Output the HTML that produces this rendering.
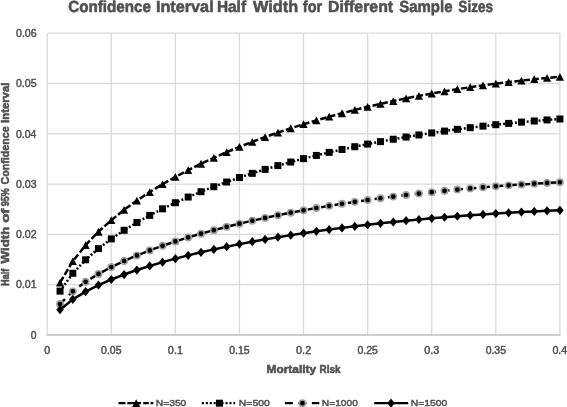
<!DOCTYPE html>
<html><head><meta charset="utf-8"><style>
html,body{margin:0;padding:0;background:#fff;overflow:hidden;}
svg{display:block;will-change:transform;}
text{font-family:"Liberation Sans",sans-serif;fill:#505050;stroke:#505050;paint-order:stroke;}
</style></head><body>
<svg width="567" height="407" viewBox="0 0 567 407">
<rect width="567" height="407" fill="#fff"/>
<line x1="47.20" y1="33.20" x2="47.20" y2="335.00" stroke="#d9d9d9" stroke-width="1.3"/>
<line x1="111.29" y1="33.20" x2="111.29" y2="335.00" stroke="#d9d9d9" stroke-width="1.3"/>
<line x1="175.38" y1="33.20" x2="175.38" y2="335.00" stroke="#d9d9d9" stroke-width="1.3"/>
<line x1="239.46" y1="33.20" x2="239.46" y2="335.00" stroke="#d9d9d9" stroke-width="1.3"/>
<line x1="303.55" y1="33.20" x2="303.55" y2="335.00" stroke="#d9d9d9" stroke-width="1.3"/>
<line x1="367.64" y1="33.20" x2="367.64" y2="335.00" stroke="#d9d9d9" stroke-width="1.3"/>
<line x1="431.73" y1="33.20" x2="431.73" y2="335.00" stroke="#d9d9d9" stroke-width="1.3"/>
<line x1="495.81" y1="33.20" x2="495.81" y2="335.00" stroke="#d9d9d9" stroke-width="1.3"/>
<line x1="559.90" y1="33.20" x2="559.90" y2="335.00" stroke="#d9d9d9" stroke-width="1.3"/>
<line x1="47.20" y1="284.70" x2="559.90" y2="284.70" stroke="#d9d9d9" stroke-width="1.3"/>
<line x1="47.20" y1="234.40" x2="559.90" y2="234.40" stroke="#d9d9d9" stroke-width="1.3"/>
<line x1="47.20" y1="184.10" x2="559.90" y2="184.10" stroke="#d9d9d9" stroke-width="1.3"/>
<line x1="47.20" y1="133.80" x2="559.90" y2="133.80" stroke="#d9d9d9" stroke-width="1.3"/>
<line x1="47.20" y1="83.50" x2="559.90" y2="83.50" stroke="#d9d9d9" stroke-width="1.3"/>
<line x1="47.20" y1="33.20" x2="559.90" y2="33.20" stroke="#d9d9d9" stroke-width="1.3"/>
<line x1="46.60" y1="335.00" x2="560.50" y2="335.00" stroke="#bfbfbf" stroke-width="1.4"/>
<text x="30.84" y="338.70" font-size="10" textLength="5.72" lengthAdjust="spacingAndGlyphs" style="stroke-width:0.45px">0</text>
<text x="16.03" y="288.40" font-size="10" textLength="20.53" lengthAdjust="spacingAndGlyphs" style="stroke-width:0.45px">0.01</text>
<text x="16.03" y="238.10" font-size="10" textLength="20.60" lengthAdjust="spacingAndGlyphs" style="stroke-width:0.45px">0.02</text>
<text x="16.03" y="187.80" font-size="10" textLength="20.53" lengthAdjust="spacingAndGlyphs" style="stroke-width:0.45px">0.03</text>
<text x="16.03" y="137.50" font-size="10" textLength="20.33" lengthAdjust="spacingAndGlyphs" style="stroke-width:0.45px">0.04</text>
<text x="16.03" y="87.20" font-size="10" textLength="20.47" lengthAdjust="spacingAndGlyphs" style="stroke-width:0.45px">0.05</text>
<text x="16.03" y="36.90" font-size="10" textLength="20.53" lengthAdjust="spacingAndGlyphs" style="stroke-width:0.45px">0.06</text>
<text x="44.22" y="353.60" font-size="10" textLength="5.95" lengthAdjust="spacingAndGlyphs" style="stroke-width:0.45px">0</text>
<text x="101.12" y="353.60" font-size="10" textLength="20.36" lengthAdjust="spacingAndGlyphs" style="stroke-width:0.45px">0.05</text>
<text x="167.89" y="353.60" font-size="10" textLength="15.06" lengthAdjust="spacingAndGlyphs" style="stroke-width:0.45px">0.1</text>
<text x="229.30" y="353.60" font-size="10" textLength="20.36" lengthAdjust="spacingAndGlyphs" style="stroke-width:0.45px">0.15</text>
<text x="296.07" y="353.60" font-size="10" textLength="15.13" lengthAdjust="spacingAndGlyphs" style="stroke-width:0.45px">0.2</text>
<text x="357.47" y="353.60" font-size="10" textLength="20.36" lengthAdjust="spacingAndGlyphs" style="stroke-width:0.45px">0.25</text>
<text x="424.24" y="353.60" font-size="10" textLength="15.06" lengthAdjust="spacingAndGlyphs" style="stroke-width:0.45px">0.3</text>
<text x="485.65" y="353.60" font-size="10" textLength="20.36" lengthAdjust="spacingAndGlyphs" style="stroke-width:0.45px">0.35</text>
<text x="552.42" y="353.60" font-size="10" textLength="14.85" lengthAdjust="spacingAndGlyphs" style="stroke-width:0.45px">0.4</text>
<text x="68.21" y="12.40" font-size="16" font-weight="bold" textLength="82.81" lengthAdjust="spacingAndGlyphs" style="stroke-width:0.55px" text-rendering="geometricPrecision">Confidence</text>
<text x="155.96" y="12.40" font-size="16" font-weight="bold" textLength="57.69" lengthAdjust="spacingAndGlyphs" style="stroke-width:0.55px" text-rendering="geometricPrecision">Interval</text>
<text x="216.91" y="12.40" font-size="16" font-weight="bold" textLength="29.14" lengthAdjust="spacingAndGlyphs" style="stroke-width:0.55px" text-rendering="geometricPrecision">Half</text>
<text x="253.08" y="12.40" font-size="16" font-weight="bold" textLength="45.15" lengthAdjust="spacingAndGlyphs" style="stroke-width:0.55px" text-rendering="geometricPrecision">Width</text>
<text x="302.80" y="12.40" font-size="16" font-weight="bold" textLength="19.33" lengthAdjust="spacingAndGlyphs" style="stroke-width:0.55px" text-rendering="geometricPrecision">for</text>
<text x="327.99" y="12.40" font-size="16" font-weight="bold" textLength="65.12" lengthAdjust="spacingAndGlyphs" style="stroke-width:0.55px" text-rendering="geometricPrecision">Different</text>
<text x="399.21" y="12.40" font-size="16" font-weight="bold" textLength="53.30" lengthAdjust="spacingAndGlyphs" style="stroke-width:0.55px" text-rendering="geometricPrecision">Sample</text>
<text x="458.35" y="12.40" font-size="16" font-weight="bold" textLength="34.69" lengthAdjust="spacingAndGlyphs" style="stroke-width:0.55px" text-rendering="geometricPrecision">Sizes</text>
<text x="266.46" y="372.70" font-size="11" font-weight="bold" textLength="49.70" lengthAdjust="spacingAndGlyphs" style="stroke-width:0.55px">Mortality</text>
<text x="319.60" y="372.70" font-size="11" font-weight="bold" textLength="20.83" lengthAdjust="spacingAndGlyphs" style="stroke-width:0.55px">Risk</text>
<g transform="translate(9.0,0) rotate(-90)"><text x="-285.74" y="0.00" font-size="11" font-weight="bold" textLength="16.92" lengthAdjust="spacingAndGlyphs" style="stroke-width:0.55px">Half</text><text x="-263.43" y="0.00" font-size="11" font-weight="bold" textLength="36.66" lengthAdjust="spacingAndGlyphs" style="stroke-width:0.55px">Width</text><text x="-222.89" y="0.00" font-size="11" font-weight="bold" textLength="14.11" lengthAdjust="spacingAndGlyphs" style="stroke-width:0.55px">of</text><text x="-206.36" y="0.00" font-size="11" font-weight="bold" textLength="18.13" lengthAdjust="spacingAndGlyphs" style="stroke-width:0.55px">95%</text><text x="-184.59" y="0.00" font-size="11" font-weight="bold" textLength="58.16" lengthAdjust="spacingAndGlyphs" style="stroke-width:0.55px">Confidence</text><text x="-122.90" y="0.00" font-size="11" font-weight="bold" textLength="40.21" lengthAdjust="spacingAndGlyphs" style="stroke-width:0.55px">Interval</text></g>
<polyline points="60.02,282.57 72.83,261.22 85.65,245.10 98.47,231.73 111.29,220.15 124.10,209.85 136.92,200.54 149.74,192.04 162.56,184.19 175.38,176.91 188.19,170.11 201.01,163.75 213.83,157.78 226.64,152.15 239.46,146.83 252.28,141.81 265.10,137.05 277.91,132.54 290.73,128.27 303.55,124.21 316.37,120.36 329.18,116.70 342.00,113.23 354.82,109.94 367.64,106.81 380.45,103.85 393.27,101.04 406.09,98.39 418.91,95.88 431.72,93.51 444.54,91.28 457.36,89.18 470.18,87.21 482.99,85.37 495.81,83.65 508.63,82.05 521.45,80.57 534.26,79.21 547.08,77.97 559.90,76.84" fill="none" stroke="#000" stroke-width="2.5" stroke-linejoin="round" stroke-dasharray="6.6,2.4"/>
<path d="M60.02,278.67L64.12,286.47L55.92,286.47Z" fill="#000"/><path d="M72.83,257.32L76.93,265.12L68.73,265.12Z" fill="#000"/><path d="M85.65,241.20L89.75,249.00L81.55,249.00Z" fill="#000"/><path d="M98.47,227.83L102.57,235.63L94.37,235.63Z" fill="#000"/><path d="M111.29,216.25L115.39,224.05L107.19,224.05Z" fill="#000"/><path d="M124.10,205.95L128.20,213.75L120.00,213.75Z" fill="#000"/><path d="M136.92,196.64L141.02,204.44L132.82,204.44Z" fill="#000"/><path d="M149.74,188.14L153.84,195.94L145.64,195.94Z" fill="#000"/><path d="M162.56,180.29L166.66,188.09L158.46,188.09Z" fill="#000"/><path d="M175.38,173.01L179.47,180.81L171.28,180.81Z" fill="#000"/><path d="M188.19,166.21L192.29,174.01L184.09,174.01Z" fill="#000"/><path d="M201.01,159.85L205.11,167.65L196.91,167.65Z" fill="#000"/><path d="M213.83,153.88L217.93,161.68L209.73,161.68Z" fill="#000"/><path d="M226.64,148.25L230.74,156.05L222.54,156.05Z" fill="#000"/><path d="M239.46,142.93L243.56,150.73L235.36,150.73Z" fill="#000"/><path d="M252.28,137.91L256.38,145.71L248.18,145.71Z" fill="#000"/><path d="M265.10,133.15L269.20,140.95L261.00,140.95Z" fill="#000"/><path d="M277.91,128.64L282.01,136.44L273.81,136.44Z" fill="#000"/><path d="M290.73,124.37L294.83,132.17L286.63,132.17Z" fill="#000"/><path d="M303.55,120.31L307.65,128.11L299.45,128.11Z" fill="#000"/><path d="M316.37,116.46L320.47,124.26L312.27,124.26Z" fill="#000"/><path d="M329.18,112.80L333.28,120.60L325.08,120.60Z" fill="#000"/><path d="M342.00,109.33L346.10,117.13L337.90,117.13Z" fill="#000"/><path d="M354.82,106.04L358.92,113.84L350.72,113.84Z" fill="#000"/><path d="M367.64,102.91L371.74,110.71L363.54,110.71Z" fill="#000"/><path d="M380.45,99.95L384.56,107.75L376.35,107.75Z" fill="#000"/><path d="M393.27,97.14L397.37,104.94L389.17,104.94Z" fill="#000"/><path d="M406.09,94.49L410.19,102.29L401.99,102.29Z" fill="#000"/><path d="M418.91,91.98L423.01,99.78L414.81,99.78Z" fill="#000"/><path d="M431.72,89.61L435.82,97.41L427.62,97.41Z" fill="#000"/><path d="M444.54,87.38L448.64,95.18L440.44,95.18Z" fill="#000"/><path d="M457.36,85.28L461.46,93.08L453.26,93.08Z" fill="#000"/><path d="M470.18,83.31L474.28,91.11L466.08,91.11Z" fill="#000"/><path d="M482.99,81.47L487.09,89.27L478.89,89.27Z" fill="#000"/><path d="M495.81,79.75L499.91,87.55L491.71,87.55Z" fill="#000"/><path d="M508.63,78.15L512.73,85.95L504.53,85.95Z" fill="#000"/><path d="M521.45,76.67L525.55,84.47L517.35,84.47Z" fill="#000"/><path d="M534.26,75.31L538.36,83.11L530.16,83.11Z" fill="#000"/><path d="M547.08,74.07L551.18,81.87L542.98,81.87Z" fill="#000"/><path d="M559.90,72.94L564.00,80.74L555.80,80.74Z" fill="#000"/>
<polyline points="60.02,291.13 72.83,273.27 85.65,259.79 98.47,248.60 111.29,238.91 124.10,230.29 136.92,222.51 149.74,215.39 162.56,208.82 175.38,202.73 188.19,197.05 201.01,191.72 213.83,186.72 226.64,182.01 239.46,177.57 252.28,173.36 265.10,169.38 277.91,165.61 290.73,162.03 303.55,158.64 316.37,155.42 329.18,152.36 342.00,149.46 354.82,146.70 367.64,144.09 380.45,141.61 393.27,139.26 406.09,137.04 418.91,134.94 431.72,132.95 444.54,131.09 457.36,129.33 470.18,127.68 482.99,126.14 495.81,124.70 508.63,123.37 521.45,122.13 534.26,120.99 547.08,119.95 559.90,119.00" fill="none" stroke="#000" stroke-width="2.5" stroke-linejoin="round" stroke-dasharray="1.9,2.05"/>
<rect x="56.52" y="287.63" width="7" height="7" fill="#000"/><rect x="69.33" y="269.77" width="7" height="7" fill="#000"/><rect x="82.15" y="256.29" width="7" height="7" fill="#000"/><rect x="94.97" y="245.10" width="7" height="7" fill="#000"/><rect x="107.79" y="235.41" width="7" height="7" fill="#000"/><rect x="120.60" y="226.79" width="7" height="7" fill="#000"/><rect x="133.42" y="219.01" width="7" height="7" fill="#000"/><rect x="146.24" y="211.89" width="7" height="7" fill="#000"/><rect x="159.06" y="205.32" width="7" height="7" fill="#000"/><rect x="171.88" y="199.23" width="7" height="7" fill="#000"/><rect x="184.69" y="193.55" width="7" height="7" fill="#000"/><rect x="197.51" y="188.22" width="7" height="7" fill="#000"/><rect x="210.33" y="183.22" width="7" height="7" fill="#000"/><rect x="223.14" y="178.51" width="7" height="7" fill="#000"/><rect x="235.96" y="174.07" width="7" height="7" fill="#000"/><rect x="248.78" y="169.86" width="7" height="7" fill="#000"/><rect x="261.60" y="165.88" width="7" height="7" fill="#000"/><rect x="274.41" y="162.11" width="7" height="7" fill="#000"/><rect x="287.23" y="158.53" width="7" height="7" fill="#000"/><rect x="300.05" y="155.14" width="7" height="7" fill="#000"/><rect x="312.87" y="151.92" width="7" height="7" fill="#000"/><rect x="325.68" y="148.86" width="7" height="7" fill="#000"/><rect x="338.50" y="145.96" width="7" height="7" fill="#000"/><rect x="351.32" y="143.20" width="7" height="7" fill="#000"/><rect x="364.14" y="140.59" width="7" height="7" fill="#000"/><rect x="376.95" y="138.11" width="7" height="7" fill="#000"/><rect x="389.77" y="135.76" width="7" height="7" fill="#000"/><rect x="402.59" y="133.54" width="7" height="7" fill="#000"/><rect x="415.41" y="131.44" width="7" height="7" fill="#000"/><rect x="428.22" y="129.45" width="7" height="7" fill="#000"/><rect x="441.04" y="127.59" width="7" height="7" fill="#000"/><rect x="453.86" y="125.83" width="7" height="7" fill="#000"/><rect x="466.68" y="124.18" width="7" height="7" fill="#000"/><rect x="479.49" y="122.64" width="7" height="7" fill="#000"/><rect x="492.31" y="121.20" width="7" height="7" fill="#000"/><rect x="505.13" y="119.87" width="7" height="7" fill="#000"/><rect x="517.95" y="118.63" width="7" height="7" fill="#000"/><rect x="530.76" y="117.49" width="7" height="7" fill="#000"/><rect x="543.58" y="116.45" width="7" height="7" fill="#000"/><rect x="556.40" y="115.50" width="7" height="7" fill="#000"/>
<polyline points="60.02,303.98 72.83,291.35 85.65,281.82 98.47,273.91 111.29,267.05 124.10,260.96 136.92,255.45 149.74,250.42 162.56,245.78 175.38,241.47 188.19,237.45 201.01,233.69 213.83,230.15 226.64,226.82 239.46,223.68 252.28,220.71 265.10,217.89 277.91,215.22 290.73,212.70 303.55,210.29 316.37,208.02 329.18,205.85 342.00,203.80 354.82,201.85 367.64,200.00 380.45,198.25 393.27,196.59 406.09,195.02 418.91,193.53 431.72,192.13 444.54,190.81 457.36,189.57 470.18,188.41 482.99,187.32 495.81,186.30 508.63,185.35 521.45,184.48 534.26,183.67 547.08,182.94 559.90,182.27" fill="none" stroke="#000" stroke-width="2.5" stroke-linejoin="round" stroke-dasharray="8,5.5" stroke-dashoffset="1"/>
<circle cx="60.02" cy="303.98" r="3.15" fill="#000" stroke="#a0a0a0" stroke-width="1.6"/><circle cx="72.83" cy="291.35" r="3.15" fill="#000" stroke="#a0a0a0" stroke-width="1.6"/><circle cx="85.65" cy="281.82" r="3.15" fill="#000" stroke="#a0a0a0" stroke-width="1.6"/><circle cx="98.47" cy="273.91" r="3.15" fill="#000" stroke="#a0a0a0" stroke-width="1.6"/><circle cx="111.29" cy="267.05" r="3.15" fill="#000" stroke="#a0a0a0" stroke-width="1.6"/><circle cx="124.10" cy="260.96" r="3.15" fill="#000" stroke="#a0a0a0" stroke-width="1.6"/><circle cx="136.92" cy="255.45" r="3.15" fill="#000" stroke="#a0a0a0" stroke-width="1.6"/><circle cx="149.74" cy="250.42" r="3.15" fill="#000" stroke="#a0a0a0" stroke-width="1.6"/><circle cx="162.56" cy="245.78" r="3.15" fill="#000" stroke="#a0a0a0" stroke-width="1.6"/><circle cx="175.38" cy="241.47" r="3.15" fill="#000" stroke="#a0a0a0" stroke-width="1.6"/><circle cx="188.19" cy="237.45" r="3.15" fill="#000" stroke="#a0a0a0" stroke-width="1.6"/><circle cx="201.01" cy="233.69" r="3.15" fill="#000" stroke="#a0a0a0" stroke-width="1.6"/><circle cx="213.83" cy="230.15" r="3.15" fill="#000" stroke="#a0a0a0" stroke-width="1.6"/><circle cx="226.64" cy="226.82" r="3.15" fill="#000" stroke="#a0a0a0" stroke-width="1.6"/><circle cx="239.46" cy="223.68" r="3.15" fill="#000" stroke="#a0a0a0" stroke-width="1.6"/><circle cx="252.28" cy="220.71" r="3.15" fill="#000" stroke="#a0a0a0" stroke-width="1.6"/><circle cx="265.10" cy="217.89" r="3.15" fill="#000" stroke="#a0a0a0" stroke-width="1.6"/><circle cx="277.91" cy="215.22" r="3.15" fill="#000" stroke="#a0a0a0" stroke-width="1.6"/><circle cx="290.73" cy="212.70" r="3.15" fill="#000" stroke="#a0a0a0" stroke-width="1.6"/><circle cx="303.55" cy="210.29" r="3.15" fill="#000" stroke="#a0a0a0" stroke-width="1.6"/><circle cx="316.37" cy="208.02" r="3.15" fill="#000" stroke="#a0a0a0" stroke-width="1.6"/><circle cx="329.18" cy="205.85" r="3.15" fill="#000" stroke="#a0a0a0" stroke-width="1.6"/><circle cx="342.00" cy="203.80" r="3.15" fill="#000" stroke="#a0a0a0" stroke-width="1.6"/><circle cx="354.82" cy="201.85" r="3.15" fill="#000" stroke="#a0a0a0" stroke-width="1.6"/><circle cx="367.64" cy="200.00" r="3.15" fill="#000" stroke="#a0a0a0" stroke-width="1.6"/><circle cx="380.45" cy="198.25" r="3.15" fill="#000" stroke="#a0a0a0" stroke-width="1.6"/><circle cx="393.27" cy="196.59" r="3.15" fill="#000" stroke="#a0a0a0" stroke-width="1.6"/><circle cx="406.09" cy="195.02" r="3.15" fill="#000" stroke="#a0a0a0" stroke-width="1.6"/><circle cx="418.91" cy="193.53" r="3.15" fill="#000" stroke="#a0a0a0" stroke-width="1.6"/><circle cx="431.72" cy="192.13" r="3.15" fill="#000" stroke="#a0a0a0" stroke-width="1.6"/><circle cx="444.54" cy="190.81" r="3.15" fill="#000" stroke="#a0a0a0" stroke-width="1.6"/><circle cx="457.36" cy="189.57" r="3.15" fill="#000" stroke="#a0a0a0" stroke-width="1.6"/><circle cx="470.18" cy="188.41" r="3.15" fill="#000" stroke="#a0a0a0" stroke-width="1.6"/><circle cx="482.99" cy="187.32" r="3.15" fill="#000" stroke="#a0a0a0" stroke-width="1.6"/><circle cx="495.81" cy="186.30" r="3.15" fill="#000" stroke="#a0a0a0" stroke-width="1.6"/><circle cx="508.63" cy="185.35" r="3.15" fill="#000" stroke="#a0a0a0" stroke-width="1.6"/><circle cx="521.45" cy="184.48" r="3.15" fill="#000" stroke="#a0a0a0" stroke-width="1.6"/><circle cx="534.26" cy="183.67" r="3.15" fill="#000" stroke="#a0a0a0" stroke-width="1.6"/><circle cx="547.08" cy="182.94" r="3.15" fill="#000" stroke="#a0a0a0" stroke-width="1.6"/><circle cx="559.90" cy="182.27" r="3.15" fill="#000" stroke="#a0a0a0" stroke-width="1.6"/>
<polyline points="60.02,309.67 72.83,299.36 85.65,291.58 98.47,285.12 111.29,279.52 124.10,274.55 136.92,270.05 149.74,265.94 162.56,262.15 175.38,258.63 188.19,255.35 201.01,252.28 213.83,249.39 226.64,246.67 239.46,244.11 252.28,241.68 265.10,239.38 277.91,237.20 290.73,235.14 303.55,233.18 316.37,231.32 329.18,229.55 342.00,227.88 354.82,226.28 367.64,224.78 380.45,223.34 393.27,221.99 406.09,220.71 418.91,219.49 431.72,218.35 444.54,217.27 457.36,216.26 470.18,215.31 482.99,214.42 495.81,213.59 508.63,212.81 521.45,212.10 534.26,211.44 547.08,210.84 559.90,210.29" fill="none" stroke="#000" stroke-width="2.5" stroke-linejoin="round" />
<path d="M60.02,305.07L63.82,309.67L60.02,314.27L56.22,309.67Z" fill="#000"/><path d="M72.83,294.76L76.63,299.36L72.83,303.96L69.03,299.36Z" fill="#000"/><path d="M85.65,286.98L89.45,291.58L85.65,296.18L81.85,291.58Z" fill="#000"/><path d="M98.47,280.52L102.27,285.12L98.47,289.72L94.67,285.12Z" fill="#000"/><path d="M111.29,274.92L115.09,279.52L111.29,284.12L107.49,279.52Z" fill="#000"/><path d="M124.10,269.95L127.90,274.55L124.10,279.15L120.30,274.55Z" fill="#000"/><path d="M136.92,265.45L140.72,270.05L136.92,274.65L133.12,270.05Z" fill="#000"/><path d="M149.74,261.34L153.54,265.94L149.74,270.54L145.94,265.94Z" fill="#000"/><path d="M162.56,257.55L166.36,262.15L162.56,266.75L158.76,262.15Z" fill="#000"/><path d="M175.38,254.03L179.18,258.63L175.38,263.23L171.57,258.63Z" fill="#000"/><path d="M188.19,250.75L191.99,255.35L188.19,259.95L184.39,255.35Z" fill="#000"/><path d="M201.01,247.68L204.81,252.28L201.01,256.88L197.21,252.28Z" fill="#000"/><path d="M213.83,244.79L217.63,249.39L213.83,253.99L210.03,249.39Z" fill="#000"/><path d="M226.64,242.07L230.44,246.67L226.64,251.27L222.84,246.67Z" fill="#000"/><path d="M239.46,239.51L243.26,244.11L239.46,248.71L235.66,244.11Z" fill="#000"/><path d="M252.28,237.08L256.08,241.68L252.28,246.28L248.48,241.68Z" fill="#000"/><path d="M265.10,234.78L268.90,239.38L265.10,243.98L261.30,239.38Z" fill="#000"/><path d="M277.91,232.60L281.71,237.20L277.91,241.80L274.11,237.20Z" fill="#000"/><path d="M290.73,230.54L294.53,235.14L290.73,239.74L286.93,235.14Z" fill="#000"/><path d="M303.55,228.58L307.35,233.18L303.55,237.78L299.75,233.18Z" fill="#000"/><path d="M316.37,226.72L320.17,231.32L316.37,235.92L312.57,231.32Z" fill="#000"/><path d="M329.18,224.95L332.98,229.55L329.18,234.15L325.38,229.55Z" fill="#000"/><path d="M342.00,223.28L345.80,227.88L342.00,232.48L338.20,227.88Z" fill="#000"/><path d="M354.82,221.68L358.62,226.28L354.82,230.88L351.02,226.28Z" fill="#000"/><path d="M367.64,220.18L371.44,224.78L367.64,229.38L363.84,224.78Z" fill="#000"/><path d="M380.45,218.74L384.25,223.34L380.45,227.94L376.65,223.34Z" fill="#000"/><path d="M393.27,217.39L397.07,221.99L393.27,226.59L389.47,221.99Z" fill="#000"/><path d="M406.09,216.11L409.89,220.71L406.09,225.31L402.29,220.71Z" fill="#000"/><path d="M418.91,214.89L422.71,219.49L418.91,224.09L415.11,219.49Z" fill="#000"/><path d="M431.72,213.75L435.52,218.35L431.72,222.95L427.92,218.35Z" fill="#000"/><path d="M444.54,212.67L448.34,217.27L444.54,221.87L440.74,217.27Z" fill="#000"/><path d="M457.36,211.66L461.16,216.26L457.36,220.86L453.56,216.26Z" fill="#000"/><path d="M470.18,210.71L473.98,215.31L470.18,219.91L466.38,215.31Z" fill="#000"/><path d="M482.99,209.82L486.79,214.42L482.99,219.02L479.19,214.42Z" fill="#000"/><path d="M495.81,208.99L499.61,213.59L495.81,218.19L492.01,213.59Z" fill="#000"/><path d="M508.63,208.21L512.43,212.81L508.63,217.41L504.83,212.81Z" fill="#000"/><path d="M521.45,207.50L525.25,212.10L521.45,216.70L517.65,212.10Z" fill="#000"/><path d="M534.26,206.84L538.06,211.44L534.26,216.04L530.46,211.44Z" fill="#000"/><path d="M547.08,206.24L550.88,210.84L547.08,215.44L543.28,210.84Z" fill="#000"/><path d="M559.90,205.69L563.70,210.29L559.90,214.89L556.10,210.29Z" fill="#000"/>
<line x1="118.5" y1="403.2" x2="153.5" y2="403.2" stroke="#000" stroke-width="2.3" stroke-dasharray="7,1.8,13.7,2.2,5.6,1.8,2.8,10"/>
<path d="M136.20,399.30L140.30,407.10L132.10,407.10Z" fill="#000"/>
<line x1="201.8" y1="403.2" x2="235.1" y2="403.2" stroke="#000" stroke-width="2.3" stroke-dasharray="2.1,1.85"/>
<rect x="216.00" y="399.70" width="7" height="7" fill="#000"/>
<line x1="284.9" y1="403.2" x2="319.3" y2="403.2" stroke="#000" stroke-width="2.3" stroke-dasharray="8,5.5"/>
<circle cx="302.40" cy="403.20" r="3.15" fill="#000" stroke="#a0a0a0" stroke-width="1.6"/>
<line x1="374.2" y1="403.2" x2="408.2" y2="403.2" stroke="#000" stroke-width="2.3" />
<path d="M391.00,398.60L394.80,403.20L391.00,407.80L387.20,403.20Z" fill="#000"/>
<text x="155.69" y="405.90" font-size="9.6" textLength="30.67" lengthAdjust="spacingAndGlyphs" style="stroke-width:0.45px">N=350</text>
<text x="238.78" y="405.90" font-size="9.6" textLength="31.09" lengthAdjust="spacingAndGlyphs" style="stroke-width:0.45px">N=500</text>
<text x="321.80" y="405.90" font-size="9.6" textLength="36.06" lengthAdjust="spacingAndGlyphs" style="stroke-width:0.45px">N=1000</text>
<text x="410.68" y="405.90" font-size="9.6" textLength="36.58" lengthAdjust="spacingAndGlyphs" style="stroke-width:0.45px">N=1500</text>
</svg></body></html>
